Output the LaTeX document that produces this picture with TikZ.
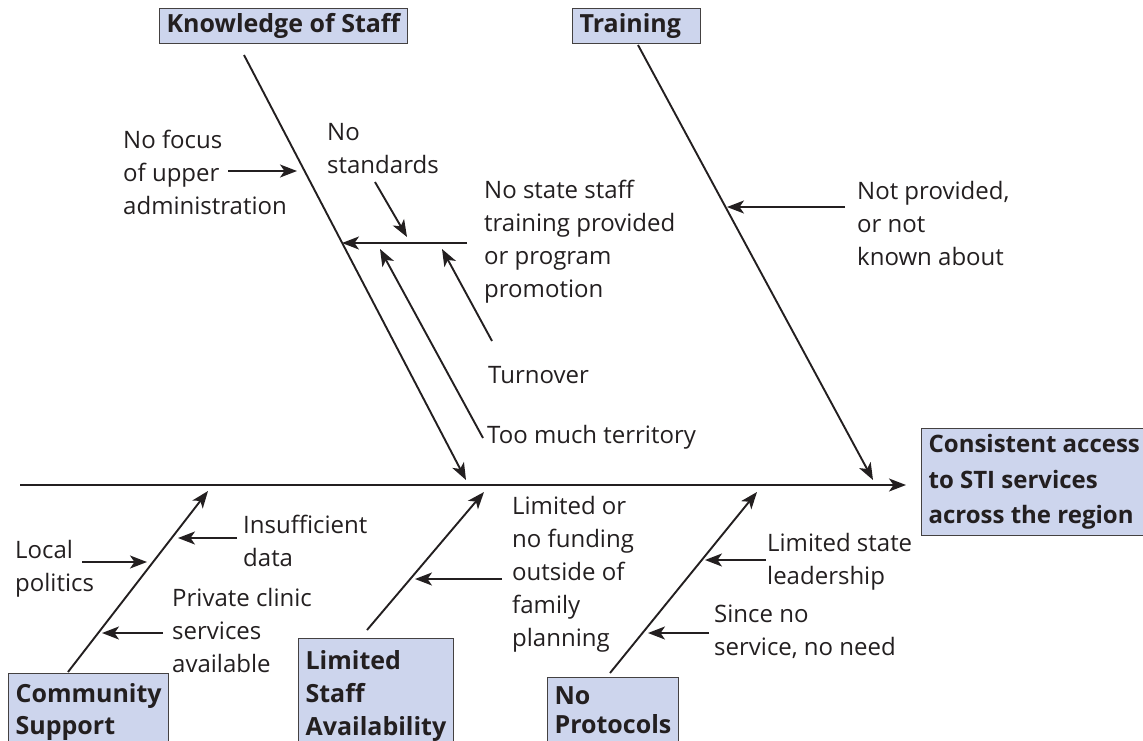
\documentclass[tikz,border=0pt]{standalone}
\usepackage{fontspec}
\setmainfont{Open Sans}
\usetikzlibrary{arrows.meta}

\definecolor{boxfill}{RGB}{205,213,237}
\definecolor{ink}{RGB}{35,31,32}

\tikzset{
  bone/.style={line width=1.9pt, draw=ink, -{Stealth[length=17pt,width=13pt,inset=4.5pt]}},
  cause/.style={text=ink, anchor=west, align=left, inner sep=0pt, font=\fontsize{24}{33}\selectfont},
  causebox/.style={draw=ink!85, line width=1.2pt, fill=boxfill, text=ink, anchor=north west, align=left,
    inner xsep=7pt, inner ysep=5pt, font=\fontsize{25}{33}\selectfont\bfseries},
  lowbox/.style={causebox, inner ysep=10pt, font=\fontsize{25}{31.5}\selectfont\bfseries}
}

\begin{document}
\begin{tikzpicture}[x=1pt,y=-1pt]
  \useasboundingbox (0,0) rectangle (1143,740);

  % head and spine
  \node[causebox, inner ysep=6pt, font=\fontsize{24}{35.5}\selectfont\bfseries] (effect) at (921,428)
    {Consistent access\\to STI services\\across the region};
  \coordinate (tail) at (20,485);
  \coordinate (head) at (906,485);
  \draw[bone] (tail) -- (head);

  % categories
  \node[causebox, minimum height=35pt] (staff) at (159,8) {Knowledge of Staff};
  \node[causebox, minimum height=34pt, text width=114pt] (training) at (572,8) {Training};
  \node[lowbox] (community) at (8,673) {Community\\Support};
  \node[lowbox, inner ysep=12pt, font=\fontsize{25}{33}\selectfont\bfseries] (avail) at (298,638)
    {Limited\\Staff\\Availability};
  \node[lowbox, inner ysep=9pt, font=\fontsize{25}{29.5}\selectfont\bfseries] (protocols) at (547,677)
    {No\\Protocols};

  \coordinate (s0) at (244,55);   \coordinate (s1) at (466,480);
  \coordinate (t0) at (638,45);   \coordinate (t1) at (873,480);
  \coordinate (c0) at (68,672);   \coordinate (c1) at (208,491);
  \coordinate (a0) at (367,630);  \coordinate (a1) at (484,492);
  \coordinate (p0) at (610,673);  \coordinate (p1) at (757,492);
  \draw[bone] (s0) -- (s1);
  \draw[bone] (t0) -- (t1);
  \draw[bone] (c0) -- (c1);
  \draw[bone] (a0) -- (a1);
  \draw[bone] (p0) -- (p1);

  % Knowledge of Staff
  \node[cause] (nofocus) at (123,172) {No focus\\of upper\\administration};
  \node[cause] (nostd) at (327,149) {No\\standards};
  \node[cause] (nostate) at (484,242) {No state staff\\training provided\\or program\\promotion};
  \node[cause] (turnover) at (488,375) {Turnover};
  \node[cause] (territory) at (487,437) {Too much territory};
  \coordinate (f0) at (228,171);  \coordinate (f1) at (297,171);
  \coordinate (n0) at (375,182);  \coordinate (n1) at (407,237);
  \coordinate (m0) at (467,243);  \coordinate (m1) at (342,243);
  \coordinate (o0) at (492,341);  \coordinate (o1) at (442,249);
  \coordinate (r0) at (483,438);  \coordinate (r1) at (380,249);
  \draw[bone] (f0) -- (f1);
  \draw[bone] (n0) -- (n1);
  \draw[bone] (m0) -- (m1);
  \draw[bone] (o0) -- (o1);
  \draw[bone] (r0) -- (r1);

  % Training
  \node[cause] (notprov) at (857,223) {Not provided,\\or not\\known about};
  \coordinate (g0) at (845,207);  \coordinate (g1) at (727,207);
  \draw[bone] (g0) -- (g1);

  % Community Support
  \node[cause] (local) at (15,569) {Local\\politics};
  \node[cause] (insuff) at (243,541) {Insufficient\\data};
  \node[cause] (private) at (172,630) {Private clinic\\services\\available};
  \coordinate (l0) at (82,562);   \coordinate (l1) at (147,562);
  \coordinate (i0) at (237,538);  \coordinate (i1) at (178,538);
  \coordinate (v0) at (163,633);  \coordinate (v1) at (102,633);
  \draw[bone] (l0) -- (l1);
  \draw[bone] (i0) -- (i1);
  \draw[bone] (v0) -- (v1);

  % Limited Staff Availability
  \node[cause] (funding) at (512,574) {Limited or\\no funding\\outside of\\family\\planning};
  \coordinate (u0) at (502,579);  \coordinate (u1) at (415,579);
  \draw[bone] (u0) -- (u1);

  % No Protocols
  \node[cause] (leader) at (767,562) {Limited state\\leadership};
  \node[cause] (since) at (714,632) {Since no\\service, no need};
  \coordinate (e0) at (766,560);  \coordinate (e1) at (705,560);
  \coordinate (h0) at (709,633);  \coordinate (h1) at (648,633);
  \draw[bone] (e0) -- (e1);
  \draw[bone] (h0) -- (h1);
\end{tikzpicture}
\end{document}
